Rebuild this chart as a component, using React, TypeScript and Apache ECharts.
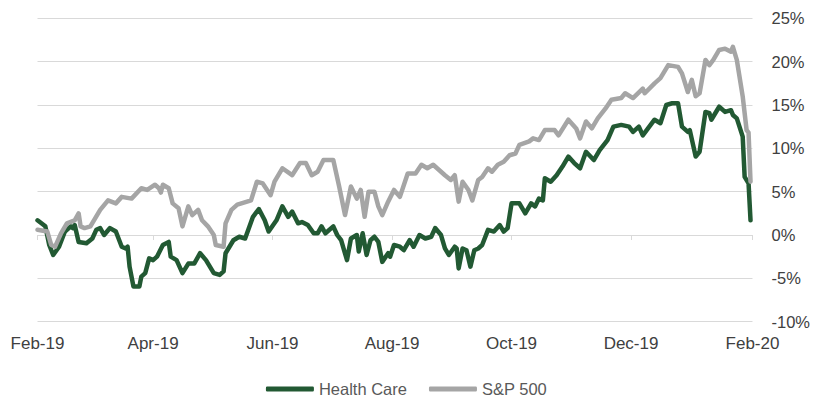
import React, { useEffect, useRef } from 'react';
import * as echarts from 'echarts';

// Axis range and tick labels
const startDate = '2019-02-01';
const endDate = '2020-02-01';
const tickDates = ['2019-02-01', '2019-04-01', '2019-06-01', '2019-08-01', '2019-10-01', '2019-12-01', '2020-02-01'];
const tickLabels = ['Feb-19', 'Apr-19', 'Jun-19', 'Aug-19', 'Oct-19', 'Dec-19', 'Feb-20'];
const yTicks = { min: -10, max: 25, interval: 5 };

// Health Care cumulative return (%)
const hcDates = [
  '2019-02-01', '2019-02-05', '2019-02-07', '2019-02-09', '2019-02-12', '2019-02-15', '2019-02-18', '2019-02-19', '2019-02-20', '2019-02-22',
  '2019-02-26', '2019-03-01', '2019-03-03', '2019-03-05', '2019-03-07', '2019-03-10', '2019-03-13', '2019-03-16', '2019-03-18', '2019-03-19',
  '2019-03-20', '2019-03-22', '2019-03-25', '2019-03-26', '2019-03-28', '2019-03-30', '2019-04-01', '2019-04-03', '2019-04-06', '2019-04-09',
  '2019-04-10', '2019-04-13', '2019-04-16', '2019-04-19', '2019-04-22', '2019-04-25', '2019-04-28', '2019-05-02', '2019-05-05', '2019-05-07',
  '2019-05-08', '2019-05-12', '2019-05-15', '2019-05-18', '2019-05-22', '2019-05-25', '2019-05-28', '2019-05-30', '2019-06-03', '2019-06-06',
  '2019-06-09', '2019-06-11', '2019-06-14', '2019-06-16', '2019-06-19', '2019-06-22', '2019-06-24', '2019-06-26', '2019-06-28', '2019-07-02',
  '2019-07-04', '2019-07-06', '2019-07-09', '2019-07-11', '2019-07-14', '2019-07-15', '2019-07-17', '2019-07-19', '2019-07-21', '2019-07-23',
  '2019-07-25', '2019-07-27', '2019-07-30', '2019-07-31', '2019-08-02', '2019-08-05', '2019-08-07', '2019-08-10', '2019-08-12', '2019-08-15',
  '2019-08-18', '2019-08-21', '2019-08-23', '2019-08-26', '2019-08-28', '2019-08-30', '2019-09-02', '2019-09-03', '2019-09-04', '2019-09-06',
  '2019-09-08', '2019-09-10', '2019-09-12', '2019-09-14', '2019-09-16', '2019-09-19', '2019-09-22', '2019-09-25', '2019-09-27', '2019-09-29',
  '2019-10-01', '2019-10-05', '2019-10-08', '2019-10-11', '2019-10-13', '2019-10-15', '2019-10-17', '2019-10-18', '2019-10-21', '2019-10-24',
  '2019-10-27', '2019-10-30', '2019-11-02', '2019-11-05', '2019-11-08', '2019-11-12', '2019-11-15', '2019-11-19', '2019-11-22', '2019-11-26',
  '2019-11-30', '2019-12-02', '2019-12-05', '2019-12-07', '2019-12-09', '2019-12-13', '2019-12-16', '2019-12-19', '2019-12-22', '2019-12-25',
  '2019-12-27', '2019-12-30', '2019-12-31', '2020-01-03', '2020-01-05', '2020-01-08', '2020-01-10', '2020-01-11', '2020-01-15', '2020-01-18',
  '2020-01-21', '2020-01-22', '2020-01-24', '2020-01-27', '2020-01-28', '2020-01-30', '2020-01-31',
];
const hcValues = [
  1.7, 1.0, -1.15, -2.3, -1.35, 0.4, 1.0, 0.8, 1.15, -0.8,
  -0.95, -0.4, 0.6, 0.8, 0, 0.8, 0.4, -1.35, -1.55, -1.35,
  -3.65, -5.95, -5.95, -4.8, -4.4, -2.7, -2.9, -2.5, -1.15, -0.8,
  -2.5, -2.9, -4.4, -3.3, -3.3, -2.1, -2.9, -4.4, -4.6, -4.2,
  -2.1, -0.6, -0.2, -0.4, 2.1, 3.0, 1.7, 0.4, 1.7, 3.3,
  2.1, 2.7, 1.35, 1.5, 1.15, 0.2, 0.2, 1.0, 0.2, 1.0,
  0, -0.6, -2.9, -0.4, 0, -1.9, 0.2, -2.3, -0.6, -0.2,
  -0.8, -3.1, -2.1, -2.5, -1.15, -1.35, -1.75, -0.6, -1.35, 0,
  -0.4, -0.2, 0.8, 0, -1.55, -2.3, -1.35, -1.55, -3.85, -1.55,
  -1.75, -3.65, -1.75, -1.55, -1.15, 0.6, 0.4, 1.15, 0.4, 0.8,
  3.65, 3.65, 2.5, 3.65, 3.3, 4.2, 4.0, 6.55, 6.15, 6.9,
  7.9, 9.05, 8.3, 7.7, 9.6, 8.65, 9.8, 10.95, 12.5, 12.7,
  12.5, 11.9, 12.5, 11.5, 12.1, 13.3, 12.9, 15.0, 15.2, 15.2,
  12.5, 11.9, 12.1, 9.05, 9.6, 14.2, 14.05, 13.3, 14.8, 14.2,
  14.4, 13.85, 13.45, 11.35, 6.7, 5.95, 1.7,
];

// S&P 500 cumulative return (%)
const spDates = [
  '2019-02-01', '2019-02-06', '2019-02-08', '2019-02-10', '2019-02-13', '2019-02-16', '2019-02-20', '2019-02-22', '2019-02-23', '2019-02-25',
  '2019-02-28', '2019-03-05', '2019-03-09', '2019-03-13', '2019-03-16', '2019-03-21', '2019-03-26', '2019-03-29', '2019-04-02', '2019-04-04',
  '2019-04-05', '2019-04-06', '2019-04-09', '2019-04-11', '2019-04-14', '2019-04-16', '2019-04-19', '2019-04-21', '2019-04-24', '2019-04-26',
  '2019-04-29', '2019-05-02', '2019-05-03', '2019-05-07', '2019-05-08', '2019-05-11', '2019-05-14', '2019-05-19', '2019-05-21', '2019-05-24',
  '2019-05-27', '2019-05-31', '2019-06-02', '2019-06-06', '2019-06-11', '2019-06-15', '2019-06-18', '2019-06-21', '2019-06-24', '2019-06-27',
  '2019-07-02', '2019-07-05', '2019-07-08', '2019-07-11', '2019-07-14', '2019-07-16', '2019-07-18', '2019-07-20', '2019-07-23', '2019-07-25',
  '2019-07-27', '2019-07-30', '2019-08-02', '2019-08-05', '2019-08-09', '2019-08-13', '2019-08-16', '2019-08-19', '2019-08-22', '2019-08-25',
  '2019-08-28', '2019-08-31', '2019-09-02', '2019-09-04', '2019-09-06', '2019-09-09', '2019-09-11', '2019-09-14', '2019-09-16', '2019-09-19',
  '2019-09-21', '2019-09-24', '2019-09-27', '2019-09-30', '2019-10-03', '2019-10-05', '2019-10-10', '2019-10-12', '2019-10-15', '2019-10-18',
  '2019-10-23', '2019-10-25', '2019-10-30', '2019-11-03', '2019-11-05', '2019-11-08', '2019-11-11', '2019-11-14', '2019-11-18', '2019-11-21',
  '2019-11-26', '2019-11-28', '2019-12-02', '2019-12-07', '2019-12-08', '2019-12-13', '2019-12-16', '2019-12-20', '2019-12-25', '2019-12-27',
  '2019-12-30', '2020-01-01', '2020-01-03', '2020-01-05', '2020-01-08', '2020-01-10', '2020-01-12', '2020-01-15', '2020-01-18', '2020-01-21',
  '2020-01-22', '2020-01-24', '2020-01-27', '2020-01-29', '2020-01-30', '2020-01-31',
];
const spValues = [
  0.6, 0.4, -1.15, -1.35, 0.2, 1.35, 1.7, 2.5, 1.0, 0.8,
  1.0, 2.9, 4.0, 3.65, 4.4, 4.2, 5.4, 5.2, 5.8, 5.4,
  4.9, 5.8, 5.4, 3.65, 3.1, 1.0, 3.3, 2.3, 2.9, 1.7,
  1.0, 0, -1.15, -1.35, 1.35, 2.9, 3.5, 3.85, 4.0, 6.15,
  5.95, 4.6, 6.15, 7.7, 6.9, 8.3, 8.3, 6.9, 7.3, 8.65,
  8.65, 5.6, 2.3, 5.6, 4.2, 5.2, 2.1, 5.0, 5.0, 3.3,
  2.3, 3.85, 5.2, 4.4, 7.1, 7.1, 8.1, 7.7, 8.1, 7.5,
  6.9, 6.35, 6.9, 3.85, 6.15, 5.2, 4.0, 6.35, 6.7, 7.7,
  7.3, 8.1, 8.45, 9.2, 9.4, 10.4, 10.8, 11.15, 10.95, 12.1,
  12.1, 11.5, 13.3, 12.3, 11.15, 13.1, 12.3, 13.45, 14.6, 15.6,
  15.8, 16.35, 15.8, 16.9, 16.35, 17.5, 18.1, 19.6, 19.4, 18.65,
  16.5, 17.9, 16.0, 16.35, 20.2, 19.6, 20.2, 21.35, 21.5, 21.15,
  21.7, 20.2, 16.0, 12.1, 11.8, 6.15,
];

const hcColor = '#225933';
const spColor = '#a5a5a5';
const gridColor = '#d9d9d9';

function buildDays(start: string, end: string): string[] {
  const out: string[] = [];
  const s = Date.parse(start + 'T00:00:00Z');
  const e = Date.parse(end + 'T00:00:00Z');
  for (let t = s; t <= e; t += 86400000) {
    out.push(new Date(t).toISOString().slice(0, 10));
  }
  return out;
}

export default function App() {
  const ref = useRef<HTMLDivElement>(null);

  useEffect(() => {
    if (!ref.current) return;
    const chart = echarts.init(ref.current, null, { renderer: 'svg' });
    const days = buildDays(startDate, endDate);
    const isTick = (_i: number, v: string) => tickDates.indexOf(v) >= 0;
    const labelFor = (v: string) => {
      const k = tickDates.indexOf(v);
      return k >= 0 ? tickLabels[k] : '';
    };

    chart.setOption({
      animation: false,
      backgroundColor: '#ffffff',
      grid: { left: 37.5, right: 58.7, top: 18.3, bottom: 78.3, containLabel: false },
      legend: {
        data: ['Health Care', 'S&P 500'],
        left: 'center',
        top: 378,
        padding: 2,
        icon: 'roundRect',
        itemWidth: 48,
        itemHeight: 5,
        itemGap: 22,
        textStyle: { fontSize: 16.5, color: '#595959', fontFamily: 'Liberation Sans', lineHeight: 18 },
      },
      xAxis: [
        {
          type: 'category',
          data: days,
          boundaryGap: false,
          position: 'bottom',
          axisLine: { show: true, onZero: true, lineStyle: { color: gridColor, width: 1 } },
          axisTick: { show: true, interval: isTick, length: 5, lineStyle: { color: gridColor, width: 1 } },
          axisLabel: { show: false },
          splitLine: { show: false },
        },
        {
          type: 'category',
          data: days,
          boundaryGap: false,
          position: 'bottom',
          axisLine: { show: false, onZero: false },
          axisTick: { show: false },
          axisLabel: {
            show: true,
            interval: isTick,
            formatter: labelFor,
            margin: 13,
            fontSize: 17,
            color: '#404040',
            fontFamily: 'Liberation Sans',
          },
          splitLine: { show: false },
        },
      ],
      yAxis: {
        type: 'value',
        position: 'right',
        min: yTicks.min,
        max: yTicks.max,
        interval: yTicks.interval,
        axisLine: { show: false },
        axisTick: { show: false },
        axisLabel: {
          formatter: '{value}%',
          margin: 19,
          fontSize: 16.5,
          color: '#404040',
          fontFamily: 'Liberation Sans',
        },
        splitLine: { show: true, lineStyle: { color: gridColor, width: 1 } },
      },
      series: [
        {
          name: 'Health Care',
          type: 'line',
          xAxisIndex: 0,
          data: hcDates.map((d, i) => [d, hcValues[i]]),
          showSymbol: false,
          symbol: 'none',
          lineStyle: { color: hcColor, width: 4.5, join: 'round', cap: 'round' },
          itemStyle: { color: hcColor },
        },
        {
          name: 'S&P 500',
          type: 'line',
          xAxisIndex: 0,
          data: spDates.map((d, i) => [d, spValues[i]]),
          showSymbol: false,
          symbol: 'none',
          lineStyle: { color: spColor, width: 4.5, join: 'round', cap: 'round' },
          itemStyle: { color: spColor },
        },
      ],
    });

    return () => chart.dispose();
  }, []);

  return (
    <div
      ref={ref}
      style={{ position: 'fixed', left: 0, top: 0, width: 813, height: 400, background: '#fff' }}
    />
  );
}
